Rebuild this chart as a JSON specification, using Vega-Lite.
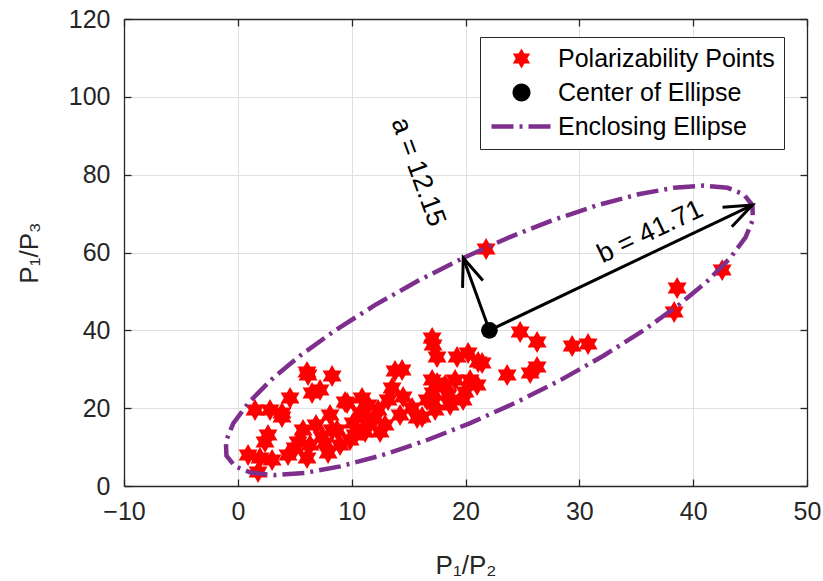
{
  "$schema": "https://vega.github.io/schema/vega-lite/v6.json",
  "width": 683,
  "height": 467,
  "autosize": "none",
  "padding": {"left": 124, "top": 19, "right": 16, "bottom": 95},
  "background": "white",
  "config": {"font": "Liberation Sans", "view": {"stroke": null}},
  "datasets": {
    "points": [
      {"x":21.81,"y":60.88},{"x":42.55,"y":55.48},{"x":38.59,"y":50.86},{"x":38.33,"y":44.70},{"x":24.80,"y":39.56},{"x":26.29,"y":36.99},{"x":29.37,"y":35.96},{"x":30.77,"y":36.48},{"x":23.66,"y":28.51},{"x":25.68,"y":29.03},{"x":26.29,"y":30.57},
      {"x":17.07,"y":38.02},{"x":17.15,"y":36.22},{"x":17.50,"y":33.14},{"x":19.26,"y":33.14},{"x":20.23,"y":34.16},{"x":21.11,"y":31.85},{"x":14.43,"y":29.80},{"x":17.07,"y":27.23},{"x":20.40,"y":27.23},{"x":21.02,"y":25.94},{"x":19.96,"y":24.15},{"x":18.47,"y":23.38},{"x":17.15,"y":23.89},{"x":16.63,"y":22.09},{"x":15.31,"y":20.04},{"x":15.75,"y":17.47},{"x":17.33,"y":19.52},{"x":14.52,"y":22.86},{"x":19.79,"y":22.09},{"x":17.50,"y":26.46},{"x":16.19,"y":17.72},{"x":17.15,"y":21.58},{"x":21.46,"y":31.60},{"x":18.65,"y":20.81},{"x":18.21,"y":25.94},{"x":19.09,"y":27.23},
      {"x":8.28,"y":28.26},{"x":13.81,"y":29.54},{"x":13.55,"y":25.17},{"x":13.20,"y":22.09},{"x":9.60,"y":21.32},{"x":11.44,"y":20.81},{"x":12.32,"y":19.52},{"x":8.10,"y":18.24},{"x":10.12,"y":16.18},{"x":11.35,"y":16.18},{"x":8.28,"y":14.38},{"x":7.66,"y":11.05},{"x":8.98,"y":10.53},{"x":10.30,"y":13.10},{"x":9.42,"y":21.58},{"x":10.74,"y":18.75},{"x":12.06,"y":17.47},{"x":12.93,"y":15.67},{"x":11.18,"y":13.87},{"x":9.86,"y":11.82},{"x":12.50,"y":13.87},{"x":14.25,"y":18.24},{"x":10.91,"y":22.60},
      {"x":6.17,"y":28.51},{"x":7.22,"y":24.66},{"x":6.52,"y":23.89},{"x":4.59,"y":22.60},{"x":1.51,"y":19.52},{"x":2.83,"y":19.52},{"x":3.88,"y":17.72},{"x":2.65,"y":13.10},{"x":2.39,"y":11.30},{"x":0.90,"y":7.96},{"x":1.95,"y":7.19},{"x":1.78,"y":3.60},{"x":3.01,"y":6.68},{"x":4.41,"y":7.96},{"x":5.73,"y":14.38},{"x":5.29,"y":11.30},{"x":6.34,"y":10.53},{"x":7.40,"y":12.59},{"x":6.08,"y":7.19},{"x":7.93,"y":8.48},{"x":8.72,"y":14.38},{"x":6.08,"y":29.28},{"x":3.88,"y":18.75},{"x":6.87,"y":15.67},{"x":5.03,"y":9.76}
    ],
    "ellipse": [
      {"i":0,"x":19.80,"y":58.60},{"i":1,"x":23.85,"y":63.91},{"i":2,"x":27.84,"y":68.49},{"i":3,"x":31.66,"y":72.21},{"i":4,"x":35.19,"y":74.95},{"i":5,"x":38.31,"y":76.63},{"i":6,"x":40.95,"y":77.19},{"i":7,"x":43.02,"y":76.62},{"i":8,"x":44.45,"y":74.94},{"i":9,"x":45.20,"y":72.20},
      {"i":10,"x":45.25,"y":68.48},{"i":11,"x":44.60,"y":63.90},{"i":12,"x":43.25,"y":58.59},{"i":13,"x":41.27,"y":52.71},{"i":14,"x":38.71,"y":46.45},{"i":15,"x":35.64,"y":39.99},{"i":16,"x":32.16,"y":33.53},{"i":17,"x":28.38,"y":27.27},{"i":18,"x":24.40,"y":21.40},
      {"i":19,"x":20.36,"y":16.09},{"i":20,"x":16.36,"y":11.51},{"i":21,"x":12.54,"y":7.79},{"i":22,"x":9.01,"y":5.05},{"i":23,"x":5.89,"y":3.37},{"i":24,"x":3.25,"y":2.81},{"i":25,"x":1.18,"y":3.38},{"i":26,"x":-0.25,"y":5.06},{"i":27,"x":-1.00,"y":7.80},
      {"i":28,"x":-1.05,"y":11.52},{"i":29,"x":-0.40,"y":16.10},{"i":30,"x":0.95,"y":21.41},{"i":31,"x":2.93,"y":27.29},{"i":32,"x":5.49,"y":33.55},{"i":33,"x":8.56,"y":40.01},{"i":34,"x":12.04,"y":46.47},{"i":35,"x":15.83,"y":52.73},{"i":36,"x":19.80,"y":58.60}
    ],
    "center": [{"x":22.1,"y":40.0}],
    "arrows": [
      {"name":"a","x":22.1,"y":40.0,"x2":19.8,"y2":58.6},
      {"name":"b","x":22.1,"y":40.0,"x2":45.2,"y2":72.2}
    ],
    "labels": [
      {"name":"a","label":"a = 12.15","x":15.83,"y":80.66},
      {"name":"b","label":"b = 41.71","x":36.22,"y":65.25}
    ]
  },
  "resolve": {"axis": {"x": "independent", "y": "independent"}},
  "layer": [
    {
      "data": {"name": "points"},
      "transform": [{"calculate": "'Polarizability Points'", "as": "series"}],
      "mark": {"type": "point", "filled": true, "opacity": 1, "size": 480, "strokeWidth": 0},
      "encoding": {
        "x": {"field": "x", "type": "quantitative",
          "scale": {"domain": [-10, 50], "nice": false, "zero": false},
          "axis": {"orient": "bottom", "values": [-10,0,10,20,30,40,50], "title": "P₁/P₂",
            "grid": true, "gridColor": "#dfdfdf", "gridWidth": 1,
            "domainColor": "#262626", "domainWidth": 1.3, "tickColor": "#262626", "tickWidth": 1.3, "tickSize": -7,
            "labelFontSize": 25, "labelColor": "#262626", "labelPadding": 20, "labelFlush": false,
            "titleFontSize": 26, "titleFontWeight": "normal", "titleColor": "#262626", "titlePadding": 28}},
        "y": {"field": "y", "type": "quantitative",
          "scale": {"domain": [0, 120], "nice": false, "zero": false},
          "axis": {"orient": "left", "values": [0,20,40,60,80,100,120], "title": "P₁/P₃",
            "grid": true, "gridColor": "#dfdfdf", "gridWidth": 1,
            "domainColor": "#262626", "domainWidth": 1.3, "tickColor": "#262626", "tickWidth": 1.3, "tickSize": -7,
            "labelFontSize": 25, "labelColor": "#262626", "labelPadding": 21, "labelFlush": false,
            "titleFontSize": 26, "titleFontWeight": "normal", "titleColor": "#262626", "titlePadding": 26}},
        "color": {"field": "series", "type": "nominal",
          "scale": {"domain": ["Polarizability Points", "Center of Ellipse", "Enclosing Ellipse"], "range": ["#ff0000", "#000000", "#7e2f8e"]},
          "legend": {"orient": "none", "legendX": 356, "legendY": 18, "title": null,
            "strokeColor": "#262626", "fillColor": "white", "padding": 9,
            "labelFontSize": 25, "labelColor": "black", "labelOffset": 24, "labelLimit": 400, "rowPadding": 8,
            "clipHeight": 25, "symbolOpacity": 1, "symbolSize": 400, "symbolOffset": 20, "symbolStrokeWidth": 4.5}},
        "shape": {"field": "series", "type": "nominal",
          "scale": {"domain": ["Polarizability Points", "Center of Ellipse", "Enclosing Ellipse"],
            "range": ["M0,-1L0.2887,-0.5L0.866,-0.5L0.5774,0L0.866,0.5L0.2887,0.5L0,1L-0.2887,0.5L-0.866,0.5L-0.5774,0L-0.866,-0.5L-0.2887,-0.5Z", "M-0.9,0A0.9,0.9,0,1,1,0.9,0A0.9,0.9,0,1,1,-0.9,0Z", "M-3,0L3,0"]}},
        "stroke": {"field": "series", "type": "nominal",
          "scale": {"domain": ["Polarizability Points", "Center of Ellipse", "Enclosing Ellipse"], "range": ["transparent", "transparent", "#7e2f8e"]}},
        "strokeDash": {"field": "series", "type": "nominal",
          "scale": {"domain": ["Polarizability Points", "Center of Ellipse", "Enclosing Ellipse"], "range": [[1, 0], [1, 0], [22, 6, 3, 6]]}}
      }
    },
    {
      "data": {"name": "ellipse"},
      "mark": {"type": "line", "strokeWidth": 4.5, "strokeDash": [22, 6, 3, 6], "strokeCap": "butt", "color": "#7e2f8e"},
      "encoding": {
        "x": {"field": "x", "type": "quantitative",
          "axis": {"orient": "top", "values": [-10,0,10,20,30,40,50], "labels": false, "title": null, "grid": false,
            "domainColor": "#262626", "domainWidth": 1.3, "tickColor": "#262626", "tickWidth": 1.3, "tickSize": -7}},
        "y": {"field": "y", "type": "quantitative",
          "axis": {"orient": "right", "values": [0,20,40,60,80,100,120], "labels": false, "title": null, "grid": false,
            "domainColor": "#262626", "domainWidth": 1.3, "tickColor": "#262626", "tickWidth": 1.3, "tickSize": -7}},
        "order": {"field": "i", "type": "quantitative"}
      }
    },
    {
      "data": {"name": "arrows"},
      "mark": {"type": "rule", "color": "black", "strokeWidth": 3},
      "encoding": {
        "x": {"field": "x", "type": "quantitative", "axis": null},
        "y": {"field": "y", "type": "quantitative", "axis": null},
        "x2": {"field": "x2"},
        "y2": {"field": "y2"}
      }
    },
    {
      "data": {"name": "arrows"},
      "transform": [{"filter": "datum.name === 'a'"}],
      "mark": {"type": "point", "shape": "M-0.36,0.93L0,0L0.36,0.93", "size": 3600, "filled": false, "stroke": "black", "strokeWidth": 3, "opacity": 1, "angle": -19.9},
      "encoding": {
        "x": {"field": "x2", "type": "quantitative", "axis": null},
        "y": {"field": "y2", "type": "quantitative", "axis": null}
      }
    },
    {
      "data": {"name": "arrows"},
      "transform": [{"filter": "datum.name === 'b'"}],
      "mark": {"type": "point", "shape": "M-0.36,0.93L0,0L0.36,0.93", "size": 3600, "filled": false, "stroke": "black", "strokeWidth": 3, "opacity": 1, "angle": 64.5},
      "encoding": {
        "x": {"field": "x2", "type": "quantitative", "axis": null},
        "y": {"field": "y2", "type": "quantitative", "axis": null}
      }
    },
    {
      "data": {"name": "center"},
      "transform": [{"calculate": "'Center of Ellipse'", "as": "series"}],
      "mark": {"type": "point", "shape": "circle", "filled": true, "opacity": 1, "size": 280, "strokeWidth": 0},
      "encoding": {
        "x": {"field": "x", "type": "quantitative", "axis": null},
        "y": {"field": "y", "type": "quantitative", "axis": null},
        "color": {"field": "series", "type": "nominal"}
      }
    },
    {
      "data": {"name": "labels"},
      "transform": [{"filter": "datum.name === 'a'"}],
      "mark": {"type": "text", "fontSize": 27, "color": "black", "angle": 70, "align": "center", "baseline": "middle"},
      "encoding": {
        "x": {"field": "x", "type": "quantitative", "axis": null},
        "y": {"field": "y", "type": "quantitative", "axis": null},
        "text": {"field": "label"}
      }
    },
    {
      "data": {"name": "labels"},
      "transform": [{"filter": "datum.name === 'b'"}],
      "mark": {"type": "text", "fontSize": 27, "color": "black", "angle": -25.4, "align": "center", "baseline": "middle"},
      "encoding": {
        "x": {"field": "x", "type": "quantitative", "axis": null},
        "y": {"field": "y", "type": "quantitative", "axis": null},
        "text": {"field": "label"}
      }
    }
  ]
}
